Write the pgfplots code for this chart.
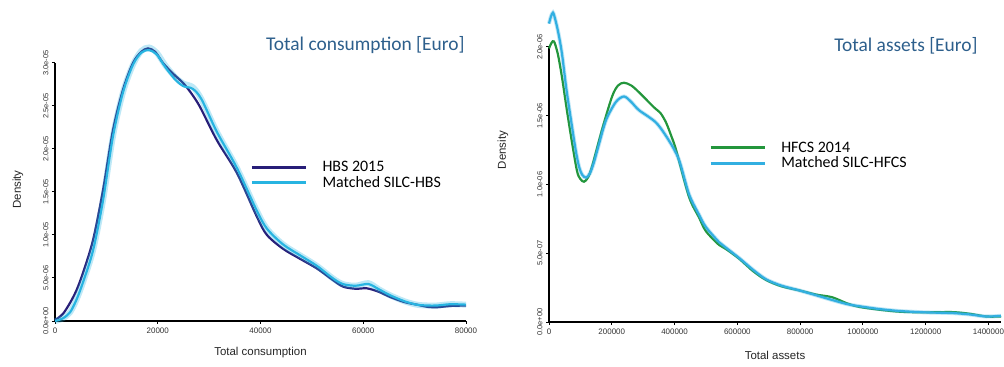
\documentclass[border=0pt]{standalone}
\usepackage{fontspec}
\setmainfont{Liberation Sans}
\newfontfamily\calfont{Carlito}
\usepackage{pgfplots}
\pgfplotsset{compat=1.18}
\definecolor{navyc}{RGB}{40,30,120}
\definecolor{lbluec}{RGB}{40,180,225}
\definecolor{greenc}{RGB}{35,150,60}
\definecolor{abluec}{RGB}{50,175,225}
\definecolor{ttlc}{RGB}{45,95,140}
\pgfplotsset{mystyle/.style={scale only axis, axis lines=left,
  axis line style={-, line width=1.2bp},
  tick align=outside, major tick length=3bp,
  every tick/.style={black, line width=1bp},
  clip=false, enlargelimits=false, scaled ticks=false,
  xticklabel style={font=\fontsize{8}{9}\selectfont, text=black!80},
  yticklabel style={rotate=90, anchor=south, font=\fontsize{7.5}{8}\selectfont, text=black!80},
  label style={font=\fontsize{11.5}{13}\selectfont, text=black!85},
  legend style={draw=none, fill=none, font=\calfont\fontsize{16}{16}\selectfont, legend cell align=left, inner sep=0pt, row sep=0bp, nodes={inner sep=1.5bp}},
  legend image code/.code={\draw[#1, line width=3bp, opacity=1] (0bp,0bp) -- (54bp,0bp); \path (68bp,0bp);}}}
\begin{document}
\begin{tikzpicture}
\path[use as bounding box] (0,0) rectangle (1004bp,367bp);
\begin{axis}[mystyle, at={(55bp,46bp)}, anchor=south west, width=411bp, height=258bp,
  xmin=0, xmax=80000, ymin=0, ymax=3e-5,
  xtick={0,20000,40000,60000,80000}, xticklabels={0,20000,40000,60000,80000},
  ytick={0,5e-6,1e-5,1.5e-5,2e-5,2.5e-5,3e-5},
  yticklabels={0.0e+00,5.0e-06,1.0e-05,1.5e-05,2.0e-05,2.5e-05,3.0e-05},
  xlabel={Total consumption}, ylabel={Density},
  xlabel style={at={(axis description cs:0.5,0)}, anchor=center, yshift=-32bp},
  ylabel style={at={(axis description cs:0,0.51)}, anchor=center, yshift=37bp},
  legend style={at={(axis description cs:0.475,0.566)}, anchor=west}]
\addplot[navyc, line width=2.2bp, smooth] coordinates {
(0,0.1e-6) (1500,0.8e-6) (2920,2.1e-6) (4200,3.6e-6) (5450,5.6e-6) (7400,9.4e-6) (9340,1.52e-5) (11290,2.22e-5) (13240,2.69e-5) (15180,3.00e-5) (16800,3.13e-5) (18100,3.17e-5) (19500,3.13e-5) (21020,3.00e-5) (22900,2.88e-5) (24900,2.77e-5) (26500,2.65e-5) (28220,2.49e-5) (31530,2.10e-5) (35420,1.72e-5) (39320,1.21e-5) (41260,1.00e-5) (44380,8.4e-6) (47500,7.3e-6) (51000,6.1e-6) (54000,4.8e-6) (56060,4.0e-6) (58500,3.75e-6) (60700,3.8e-6) (63000,3.4e-6) (65200,2.8e-6) (68000,2.2e-6) (70450,1.9e-6) (72500,1.65e-6) (74350,1.6e-6) (77000,1.75e-6) (80000,1.8e-6)};
\addlegendentry{HBS 2015}
\addplot[lbluec, opacity=0.3, line width=6bp, smooth, forget plot] coordinates {
(0,0.0) (1500,0.3e-6) (2920,1.0e-6) (4200,2.5e-6) (5450,4.5e-6) (7400,8.2e-6) (9340,1.4e-5) (11290,2.15e-5) (13240,2.66e-5) (15180,2.98e-5) (16800,3.14e-5) (18300,3.18e-5) (19800,3.12e-5) (21500,2.97e-5) (23500,2.83e-5) (25000,2.76e-5) (26800,2.72e-5) (28500,2.58e-5) (31500,2.20e-5) (35400,1.78e-5) (39300,1.28e-5) (41300,1.07e-5) (44400,8.9e-6) (47800,7.6e-6) (51000,6.4e-6) (54000,5.0e-6) (56000,4.3e-6) (58500,4.1e-6) (61000,4.4e-6) (63000,3.7e-6) (65200,3.0e-6) (68000,2.3e-6) (70400,1.9e-6) (72500,1.8e-6) (74300,1.8e-6) (77000,1.95e-6) (80000,1.9e-6)};
\addplot[lbluec, line width=2.2bp, smooth] coordinates {
(0,0.0) (1500,0.3e-6) (2920,1.0e-6) (4200,2.5e-6) (5450,4.5e-6) (7400,8.2e-6) (9340,1.4e-5) (11290,2.15e-5) (13240,2.66e-5) (15180,2.98e-5) (16800,3.12e-5) (18300,3.15e-5) (19800,3.10e-5) (21500,2.95e-5) (23500,2.80e-5) (25000,2.73e-5) (26800,2.70e-5) (28500,2.58e-5) (31500,2.20e-5) (35400,1.78e-5) (39300,1.28e-5) (41300,1.07e-5) (44400,8.9e-6) (47800,7.6e-6) (51000,6.4e-6) (54000,5.0e-6) (56000,4.3e-6) (58500,4.1e-6) (61000,4.3e-6) (63000,3.7e-6) (65200,3.0e-6) (68000,2.3e-6) (70400,1.9e-6) (72500,1.8e-6) (74300,1.8e-6) (77000,1.95e-6) (80000,1.9e-6)};
\addlegendentry{Matched SILC-HBS}
\node[anchor=east, font=\calfont\fontsize{19.5}{22}\selectfont, text=ttlc] at (axis description cs:1.005,1.07) {Total consumption [Euro]};
\end{axis}
\begin{axis}[mystyle, at={(549bp,45bp)}, anchor=south west, width=452bp, height=275bp,
  xmin=0, xmax=1440000, ymin=0, ymax=2e-6,
  xtick={0,200000,400000,600000,800000,1000000,1200000,1400000},
  xticklabels={0,200000,400000,600000,800000,1000000,1200000,1400000},
  ytick={0,5e-7,1e-6,1.5e-6,2e-6},
  yticklabels={0.0e+00,5.0e-07,1.0e-06,1.5e-06,2.0e-06},
  xlabel={Total assets}, ylabel={Density},
  xlabel style={at={(axis description cs:0.5,0)}, anchor=center, yshift=-33bp},
  ylabel style={at={(axis description cs:0,0.625)}, anchor=center, yshift=46bp},
  legend style={at={(axis description cs:0.354,0.605)}, anchor=west}]
\addplot[greenc, line width=2.2bp, smooth] coordinates {
(0,1.99e-6) (8000,2.03e-6) (16000,2.04e-6) (28000,1.95e-6) (41400,1.78e-6) (55000,1.57e-6) (70100,1.35e-6) (89000,1.10e-6) (100000,1.04e-6) (111500,1.02e-6) (124000,1.05e-6) (137000,1.13e-6) (169000,1.40e-6) (201000,1.64e-6) (220000,1.72e-6) (239000,1.74e-6) (262000,1.72e-6) (287000,1.67e-6) (335000,1.56e-6) (355000,1.52e-6) (373000,1.45e-6) (390000,1.35e-6) (405000,1.25e-6) (446000,9.1e-7) (478000,7.6e-7) (500000,6.6e-7) (542000,5.6e-7) (564000,5.3e-7) (606000,4.6e-7) (650000,3.7e-7) (692000,3.05e-7) (740000,2.6e-7) (797000,2.3e-7) (850000,2.0e-7) (902000,1.8e-7) (950000,1.35e-7) (988000,1.1e-7) (1050000,9e-8) (1116000,7.5e-8) (1200000,7e-8) (1284000,7.2e-8) (1340000,6e-8) (1393000,4e-8) (1440000,4e-8)};
\addlegendentry{HFCS 2014}
\addplot[abluec, opacity=0.3, line width=4bp, smooth, forget plot] coordinates {
(0,2.17e-6) (6000,2.22e-6) (12700,2.25e-6) (20000,2.20e-6) (30000,2.10e-6) (41400,1.95e-6) (55000,1.70e-6) (70000,1.47e-6) (85000,1.25e-6) (95600,1.13e-6) (106000,1.07e-6) (118000,1.05e-6) (130000,1.08e-6) (143000,1.16e-6) (160000,1.30e-6) (182000,1.47e-6) (213000,1.60e-6) (239000,1.64e-6) (262000,1.60e-6) (287000,1.54e-6) (341000,1.45e-6) (382000,1.32e-6) (414000,1.18e-6) (446000,9.3e-7) (478000,7.8e-7) (500000,6.9e-7) (542000,5.8e-7) (564000,5.4e-7) (606000,4.65e-7) (650000,3.8e-7) (692000,3.1e-7) (740000,2.65e-7) (797000,2.3e-7) (850000,1.95e-7) (902000,1.6e-7) (950000,1.3e-7) (988000,1.15e-7) (1050000,9.5e-8) (1116000,8e-8) (1200000,7e-8) (1284000,6.5e-8) (1340000,5.5e-8) (1393000,4e-8) (1440000,4.5e-8)};
\addplot[abluec, line width=2.2bp, smooth] coordinates {
(0,2.17e-6) (6000,2.22e-6) (12700,2.25e-6) (20000,2.20e-6) (30000,2.10e-6) (41400,1.95e-6) (55000,1.70e-6) (70000,1.47e-6) (85000,1.25e-6) (95600,1.13e-6) (106000,1.07e-6) (118000,1.05e-6) (130000,1.08e-6) (143000,1.16e-6) (160000,1.30e-6) (182000,1.47e-6) (213000,1.60e-6) (239000,1.64e-6) (262000,1.60e-6) (287000,1.54e-6) (341000,1.45e-6) (382000,1.32e-6) (414000,1.18e-6) (446000,9.3e-7) (478000,7.8e-7) (500000,6.9e-7) (542000,5.8e-7) (564000,5.4e-7) (606000,4.65e-7) (650000,3.8e-7) (692000,3.1e-7) (740000,2.65e-7) (797000,2.3e-7) (850000,1.95e-7) (902000,1.6e-7) (950000,1.3e-7) (988000,1.15e-7) (1050000,9.5e-8) (1116000,8e-8) (1200000,7e-8) (1284000,6.5e-8) (1340000,5.5e-8) (1393000,4e-8) (1440000,4.5e-8)};
\addlegendentry{Matched SILC-HFCS}
\node[anchor=east, font=\calfont\fontsize{19.5}{22}\selectfont, text=ttlc] at (axis description cs:0.956,1.004) {Total assets [Euro]};
\end{axis}
\end{tikzpicture}
\end{document}
